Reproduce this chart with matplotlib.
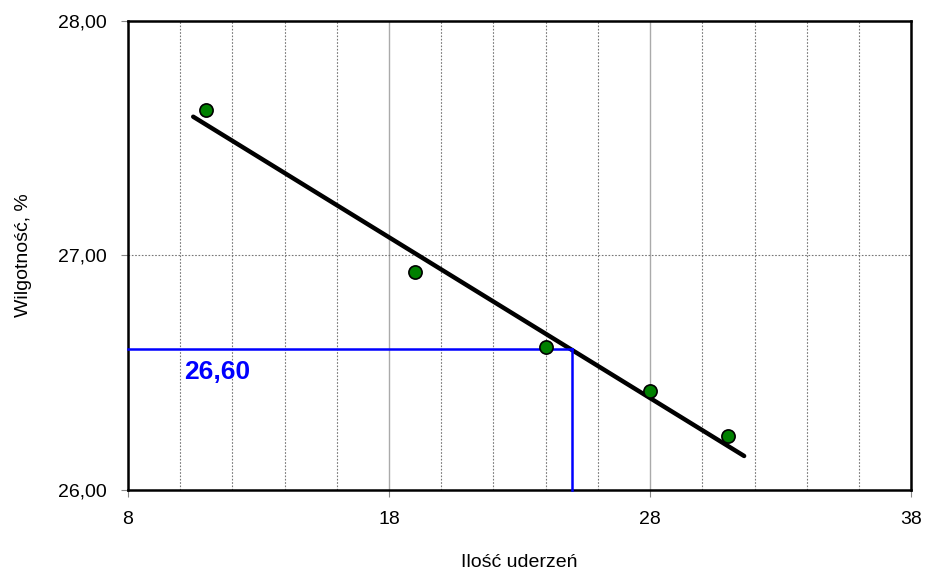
import matplotlib
matplotlib.use("Agg")
import matplotlib.pyplot as plt
import numpy as np
from matplotlib.ticker import MultipleLocator, FixedLocator

plt.rcParams['font.family'] = ['Liberation Sans', 'DejaVu Sans']

# data
blows = [11, 19, 24, 28, 31]
moisture = [27.62, 26.93, 26.61, 26.42, 26.23]
trend_x_range = [10.5, 31.6]
target_blows = 25
result_label = "26,60"
x_ticks = [8, 18, 28, 38]
y_ticks = [26.0, 27.0, 28.0]
y_tick_labels = ["26,00", "27,00", "28,00"]

coef = np.polyfit(blows, moisture, 1)
trend_x = np.array(trend_x_range)
trend_y = np.polyval(coef, trend_x)
result = 26.60

fig = plt.figure(figsize=(9.27, 5.72), dpi=100)
ax = fig.add_axes([0.138, 0.1434, 0.845, 0.82])
ax.set_xlim(8, 38)
ax.set_ylim(26, 28)

ax.xaxis.set_major_locator(FixedLocator(x_ticks))
ax.xaxis.set_minor_locator(MultipleLocator(2))
ax.yaxis.set_major_locator(FixedLocator(y_ticks))
ax.set_yticklabels(y_tick_labels)
ax.grid(True, which='major', axis='x', color='#aaaaaa', lw=1.0, ls='-')
ax.grid(True, which='minor', axis='x', color='#777777', lw=0.8, ls=(0, (1.5, 1.5)))
ax.grid(True, which='major', axis='y', color='#777777', lw=0.8, ls=(0, (1.5, 1.5)))
ax.set_axisbelow(True)

ax.tick_params(which='major', direction='out', length=5, color='#888888', labelsize=14, pad=10)
ax.tick_params(which='minor', length=0)
for s in ax.spines.values():
    s.set_linewidth(1.8)
    s.set_color('black')

ax.plot(trend_x, trend_y, color='black', lw=3.2, solid_capstyle='round', zorder=3)
ax.plot([8, target_blows], [result, result], color='#0000ff', lw=1.8, zorder=4, clip_on=False)
ax.plot([target_blows, target_blows], [26, result], color='#0000ff', lw=1.8, zorder=4, clip_on=False)
ax.plot(blows, moisture, 'o', color='#008000', mec='black', mew=1.2, ms=9.5, zorder=5)

ax.text(10.15, 26.503, result_label, color='#0000ff', fontsize=19, fontweight='bold', va='center', ha='left')

ax.set_xlabel("Ilość uderzeń", fontsize=14, labelpad=19)
ax.set_ylabel("Wilgotność, %", fontsize=14, labelpad=19)

fig.savefig("out.png", dpi=100)
